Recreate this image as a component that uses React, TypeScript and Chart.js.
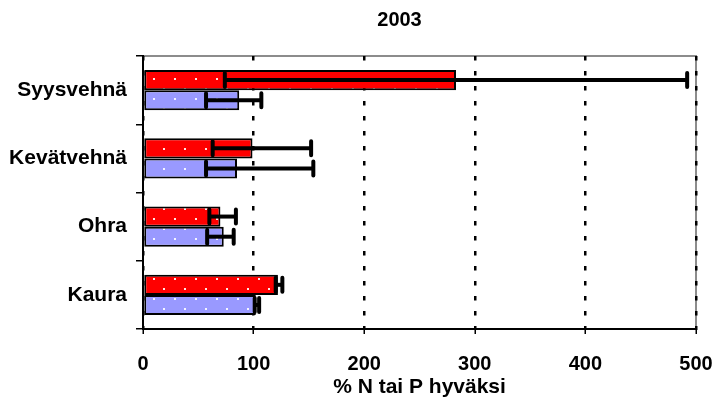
import React, { useEffect, useRef } from 'react';
import { Chart, registerables } from 'chart.js';

Chart.register(...registerables);

const categories = ['Syysvehnä', 'Kevätvehnä', 'Ohra', 'Kaura'];
const nValues = [283, 99, 70, 122];
const nLower = [74, 63, 60, 120];
const nUpper = [492, 152, 84, 126];
const pValues = [87, 85, 73, 102];
const pLower = [57, 57, 58, 101];
const pUpper = [107, 154, 82, 105];
const xTicks = [0, 100, 200, 300, 400, 500];
const chartTitle = '2003';
const xTitle = '% N tai P hyväksi';

const FONT = '"Liberation Sans", Arial, Helvetica, sans-serif';

function makePattern(color: string) {
  const c = document.createElement('canvas');
  c.width = 21;
  c.height = 20;
  const g = c.getContext('2d')!;
  g.fillStyle = color;
  g.fillRect(0, 0, 21, 20);
  g.fillStyle = 'rgba(255,255,255,0.9)';
  g.fillRect(6, 18, 2, 2);
  g.fillRect(16, 8, 2, 2);
  return g.createPattern(c, 'repeat');
}

const errorBounds = [
  { lower: nLower, upper: nUpper },
  { lower: pLower, upper: pUpper },
];

const errorBarPlugin = {
  id: 'errorBars',
  afterDatasetsDraw(chart: any) {
    const { ctx } = chart;
    const xs = chart.scales.x;
    ctx.save();
    ctx.strokeStyle = '#000';
    ctx.lineWidth = 4;
    chart.data.datasets.forEach((_: any, di: number) => {
      const meta = chart.getDatasetMeta(di);
      meta.data.forEach((el: any, i: number) => {
        const lo = xs.getPixelForValue(errorBounds[di].lower[i]);
        const hi = xs.getPixelForValue(errorBounds[di].upper[i]);
        const y = el.y;
        const h = 7;
        ctx.lineCap = 'butt';
        ctx.beginPath();
        ctx.moveTo(lo, y);
        ctx.lineTo(hi, y);
        ctx.stroke();
        ctx.lineCap = 'round';
        ctx.beginPath();
        ctx.moveTo(lo, y - h);
        ctx.lineTo(lo, y + h);
        ctx.moveTo(hi, y - h);
        ctx.lineTo(hi, y + h);
        ctx.stroke();
      });
    });
    ctx.restore();
  },
};

const framePlugin = {
  id: 'frame',
  beforeDraw(chart: any) {
    const { ctx, chartArea } = chart;
    ctx.save();
    ctx.strokeStyle = '#8c8c8c';
    ctx.lineWidth = 2;
    ctx.beginPath();
    ctx.moveTo(chartArea.left, chartArea.top);
    ctx.lineTo(chartArea.right, chartArea.top);
    ctx.lineTo(chartArea.right, chartArea.bottom);
    ctx.stroke();
    ctx.restore();
  },
};

const titlePlugin = {
  id: 'topTitle',
  afterDraw(chart: any) {
    const { ctx, chartArea } = chart;
    ctx.save();
    ctx.font = `bold 20px ${FONT}`;
    ctx.fillStyle = '#000';
    ctx.textAlign = 'center';
    ctx.textBaseline = 'middle';
    ctx.fillText(chartTitle, (chartArea.left + chartArea.right) / 2 - 20, chartArea.top - 36);
    ctx.restore();
  },
};

export default function App() {
  const ref = useRef<HTMLCanvasElement>(null);

  useEffect(() => {
    const canvas = ref.current!;
    const chart = new Chart(canvas, {
      type: 'bar',
      data: {
        labels: categories,
        datasets: [
          {
            label: 'N',
            data: nValues,
            backgroundColor: makePattern('#ff0000') as any,
            borderColor: '#000',
            borderWidth: 2,
            borderSkipped: false,
            categoryPercentage: 0.59,
            barPercentage: 1,
          },
          {
            label: 'P',
            data: pValues,
            backgroundColor: makePattern('#9999ff') as any,
            borderColor: '#000',
            borderWidth: 2,
            borderSkipped: false,
            categoryPercentage: 0.59,
            barPercentage: 1,
          },
        ],
      },
      options: {
        indexAxis: 'y',
        responsive: false,
        animation: false,
        layout: { padding: { top: 56, right: 21, left: 0, bottom: 0 } },
        plugins: {
          legend: { display: false },
          tooltip: { enabled: false },
          title: { display: false },
        },
        scales: {
          x: {
            type: 'linear',
            min: 0,
            max: 500,
            afterBuildTicks: (s: any) => {
              s.ticks = xTicks.map((v) => ({ value: v }));
            },
            afterFit: (s: any) => {
              s.height = 71;
              s.paddingLeft = 0;
              s.paddingRight = 0;
            },
            grid: {
              color: '#000',
              lineWidth: 2.5,
              drawTicks: true,
              tickLength: 5,
              tickColor: '#000',
              tickWidth: 1.5,
              tickBorderDash: [],
            },
            border: { display: true, color: '#000', width: 2, dash: [4.5, 10.5] },
            ticks: {
              color: '#000',
              padding: 18,
              maxRotation: 0,
              font: { family: FONT, size: 20, weight: 'bold' },
            },
            title: {
              display: true,
              text: xTitle,
              color: '#000',
              font: { family: FONT, size: 21, weight: 'bold' },
              padding: { top: 0, bottom: 0 },
            },
          },
          y: {
            type: 'category',
            afterFit: (s: any) => {
              s.width = 143;
            },
            grid: {
              offset: true,
              drawOnChartArea: false,
              color: '#000',
              lineWidth: 1.5,
              tickLength: 7,
            },
            border: { display: true, color: '#000', width: 2 },
            ticks: {
              color: '#000',
              padding: 9,
              font: { family: FONT, size: 21, weight: 'bold' },
            },
          },
        },
      } as any,
      plugins: [framePlugin, errorBarPlugin, titlePlugin],
    });
    return () => chart.destroy();
  }, []);

  return (
    <div style={{ position: 'fixed', left: 0, top: 0, width: 717, height: 400, background: '#fff' }}>
      <canvas ref={ref} width={717} height={400} style={{ display: 'block' }} />
    </div>
  );
}
